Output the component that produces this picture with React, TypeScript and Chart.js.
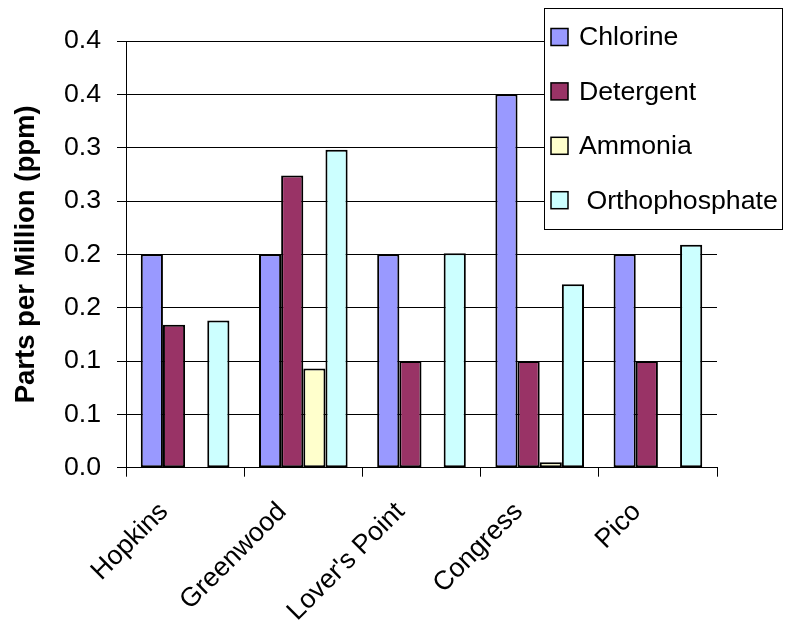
import React, { useEffect, useRef } from "react";
import { Chart, registerables } from "chart.js";

Chart.register(...registerables);

const categories = ["Hopkins", "Greenwood", "Lover's Point", "Congress", "Pico"];
const seriesNames = ["Chlorine", "Detergent", "Ammonia", " Orthophosphate"];
const chlorine = [0.2, 0.2, 0.2, 0.35, 0.2];
const detergent = [0.134, 0.274, 0.1, 0.1, 0.1];
const ammonia = [null, 0.093, null, 0.005, null];
const orthophosphate = [0.138, 0.298, 0.201, 0.172, 0.209];
const seriesColors = ["#9999FF", "#993366", "#FFFFCC", "#CCFFFF"];
const yTickLabels = ["0.0", "0.1", "0.1", "0.2", "0.2", "0.3", "0.3", "0.4", "0.4"];
const yTitle = "Parts per Million (ppm)";

const FONT = "'Liberation Sans', Arial, sans-serif";

const legendPlugin = {
  id: "boxLegend",
  afterDraw(chart: any) {
    const ctx = chart.ctx;
    const left = 544, top = 8, right = 782, bottom = 229;
    ctx.save();
    ctx.fillStyle = "#ffffff";
    ctx.fillRect(left, top, right - left, bottom - top);
    ctx.strokeStyle = "#000000";
    ctx.lineWidth = 1;
    ctx.strokeRect(left + 0.5, top + 0.5, right - left, bottom - top);
    ctx.font = "26.7px " + FONT;
    ctx.textBaseline = "middle";
    ctx.textAlign = "left";
    chart.data.datasets.forEach((ds: any, i: number) => {
      const cy = top + 29 + i * 54.4;
      ctx.fillStyle = ds.backgroundColor;
      ctx.fillRect(551, cy - 8.5, 17, 17);
      ctx.strokeStyle = "#000000";
      ctx.lineWidth = 1.5;
      ctx.strokeRect(551, cy - 8.5, 17, 17);
      ctx.fillStyle = "#000000";
      ctx.fillText(ds.label, 579, cy + 1);
    });
    ctx.restore();
  },
};

export default function App() {
  const ref = useRef<HTMLCanvasElement | null>(null);
  useEffect(() => {
    if (!ref.current) return;
    const values = [chlorine, detergent, ammonia, orthophosphate];
    const chart = new Chart(ref.current, {
      type: "bar",
      data: {
        labels: categories,
        datasets: seriesNames.map((name, i) => ({
          label: name,
          data: values[i],
          backgroundColor: seriesColors[i],
          borderColor: "#000000",
          borderWidth: 2,
          borderSkipped: false,
          categoryPercentage: 0.75,
          barPercentage: 1,
        })),
      },
      options: {
        responsive: false,
        animation: false,
        devicePixelRatio: 1,
        layout: { padding: { top: 41, right: 77, left: 0, bottom: 0 } },
        plugins: {
          legend: { display: false },
          tooltip: { enabled: false },
        },
        scales: {
          x: {
            offset: true,
            grid: {
              display: true,
              offset: true,
              drawOnChartArea: false,
              drawTicks: true,
              tickLength: 9,
              color: "#000000",
            },
            border: { display: true, color: "#000000", width: 1 },
            ticks: {
              autoSkip: false,
              minRotation: 45,
              maxRotation: 45,
              padding: 19.5,
              labelOffset: -21,
              color: "#000000",
              font: { family: FONT, size: 26.7 },
            },
            afterFit(scale: any) {
              scale.height = 156.3;
            },
          },
          y: {
            min: 0,
            max: 0.4,
            ticks: {
              stepSize: 0.05,
              padding: 16,
              color: "#000000",
              font: { family: FONT, size: 26.7 },
              callback: (v: any) => yTickLabels[Math.round(Number(v) / 0.05)],
            },
            grid: {
              color: "#000000",
              tickLength: 9,
              drawTicks: true,
            },
            border: { display: true, color: "#000000", width: 1 },
            title: {
              display: true,
              text: yTitle,
              color: "#000000",
              padding: { top: 10, bottom: 0 },
              font: { family: FONT, size: 27.5, weight: "bold" },
            },
            afterFit(scale: any) {
              scale.width = 126;
            },
          },
        },
      },
      plugins: [legendPlugin],
    });
    return () => chart.destroy();
  }, []);
  return (
    <div style={{ position: "absolute", left: 0, top: 0, width: 794, height: 624, background: "#fff" }}>
      <canvas ref={ref} width={794} height={624} style={{ display: "block" }} />
    </div>
  );
}
